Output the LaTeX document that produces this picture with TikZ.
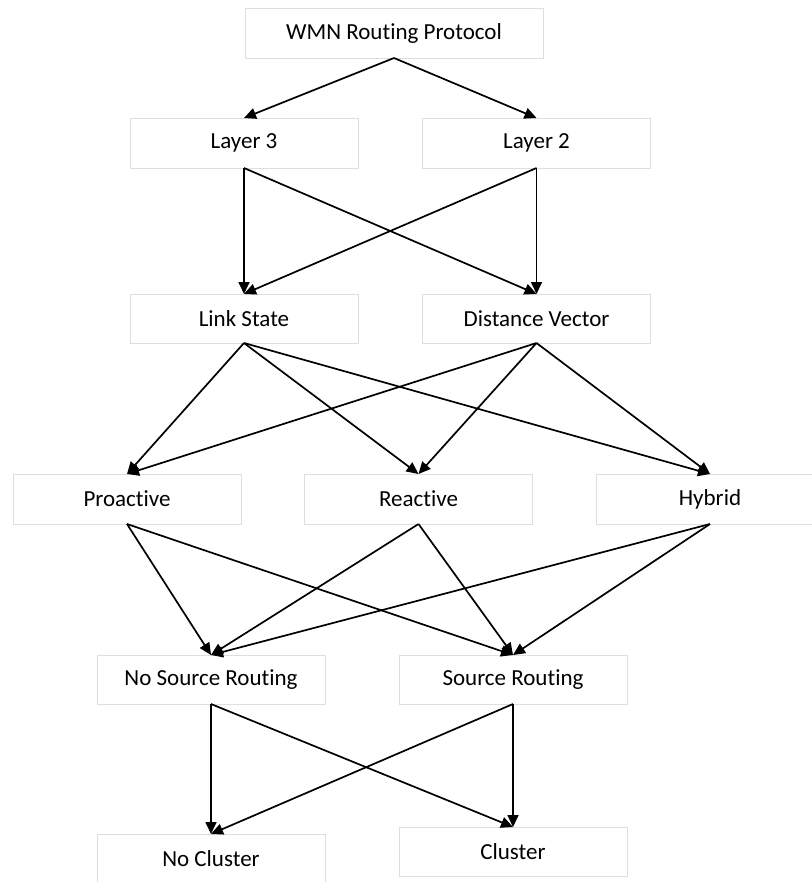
\documentclass[tikz,border=0pt]{standalone}
\usepackage{fontspec}
\setmainfont{Carlito}[Ligatures=NoCommon]
\usetikzlibrary{arrows.meta}
\begin{document}
\begin{tikzpicture}[x=1pt,y=-1pt,
  box/.style={draw=black!13, line width=0.8pt, fill=white, inner sep=0pt, outer sep=0pt,
    minimum height=50pt, font=\fontsize{23}{27}\selectfont},
  w298/.style={minimum width=298pt},
  w228/.style={minimum width=228pt},
  link/.style={line width=1.7pt, -{Triangle[length=12pt,width=11pt]}}]
\useasboundingbox (0,0) rectangle (811,882);
\node[box,w298] (wmn) at (394,33) {WMN Routing Protocol};
\node[box,w228] (l3) at (244,143) {Layer 3};
\node[box,w228] (l2) at (536.5,143) {Layer 2};
\node[box,w228,minimum height=49pt] (ls) at (244,318.5) {Link State};
\node[box,w228,minimum height=49pt] (dv) at (536.5,318.5) {Distance Vector};
\node[box,w228] (pro) at (127,499) {Proactive};
\node[box,w228] (re) at (418.5,499) {Reactive};
\node[box,w228] (hy) at (710,499) {Hybrid};
\node[box,w228,minimum height=49pt] (nsr) at (211,679.5) {No Source Routing};
\node[box,w228,minimum height=49pt] (sr) at (513,679.5) {Source Routing};
\node[box,w228,minimum height=49pt] (nc) at (211,858.5) {No Cluster};
\node[box,w228,minimum height=49pt] (cl) at (513,851.5) {Cluster};
\draw[link] (wmn.south) -- (l3.north);
\draw[link] (wmn.south) -- (l2.north);
\draw[link] (l3.south) -- (ls.north);
\draw[link] (l3.south) -- (dv.north);
\draw[link] (l2.south) -- (ls.north);
\draw[link] (l2.south) -- (dv.north);
\foreach \s in {ls,dv}{\foreach \t in {pro,re,hy}{\draw[link] (\s.south) -- (\t.north);}}
\foreach \s in {pro,re,hy}{\foreach \t in {nsr,sr}{\draw[link] (\s.south) -- (\t.north);}}
\draw[link] (nsr.south) -- (nc.north);
\draw[link] (nsr.south) -- (cl.north);
\draw[link] (sr.south) -- (nc.north);
\draw[link] (sr.south) -- (cl.north);
\end{tikzpicture}
\end{document}
